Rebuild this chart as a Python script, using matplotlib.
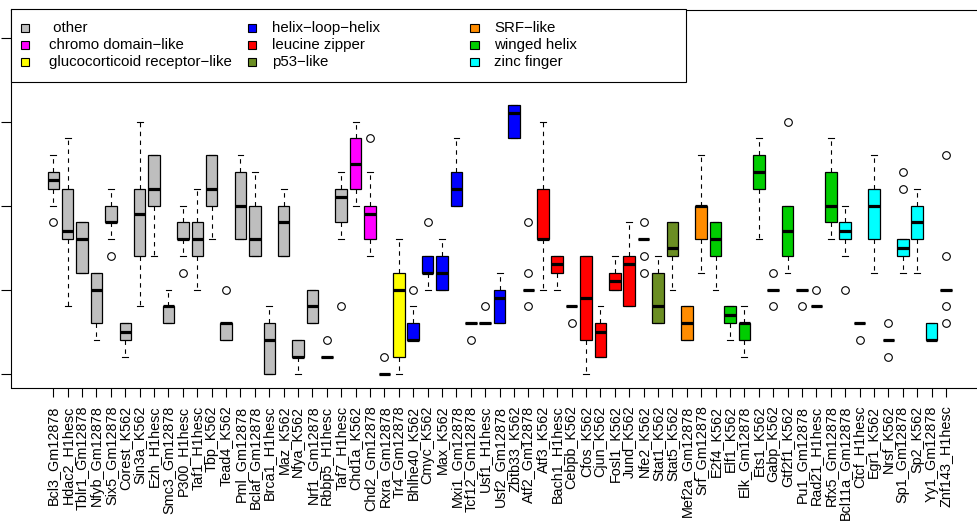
import matplotlib
matplotlib.use("Agg")
import matplotlib.pyplot as plt
from matplotlib.patches import Rectangle

plt.rcParams['font.family'] = ['Liberation Sans', 'DejaVu Sans']

labels = [
    "Bcl3_Gm12878", "Hdac2_H1hesc", "Tblr1_Gm12878", "Nfyb_Gm12878", "Six5_Gm12878",
    "Corest_K562", "Sin3a_K562", "Ezh_H1hesc", "Smc3_Gm12878", "P300_H1hesc",
    "Taf1_H1hesc", "Tbp_K562", "Tead4_K562", "Pml_Gm12878", "Bclaf_Gm12878",
    "Brca1_H1hesc", "Maz_K562", "Nfya_K562", "Nrf1_Gm12878", "Rbbp5_H1hesc",
    "Taf7_H1hesc", "Chd1a_K562", "Chd2_Gm12878", "Rxra_Gm12878", "Tr4_Gm12878",
    "Bhlhe40_K562", "Cmyc_K562", "Max_K562", "Mxi1_Gm12878", "Tcf12_Gm12878",
    "Usf1_H1hesc", "Usf2_Gm12878", "Zbtb33_K562", "Atf2_Gm12878", "Atf3_K562",
    "Bach1_H1hesc", "Cebpb_K562", "Cfos_K562", "Cjun_K562", "Fosl1_K562",
    "Jund_K562", "Nfe2_K562", "Stat1_K562", "Stat5_K562", "Mef2a_Gm12878",
    "Srf_Gm12878", "E2f4_K562", "Elf1_K562", "Elk_Gm12878", "Ets1_K562",
    "Gabp_K562", "Gtf2f1_K562", "Pu1_Gm12878", "Rad21_H1hesc", "Rfx5_Gm12878",
    "Bcl11a_Gm12878", "Ctcf_H1hesc", "Egr1_K562", "Nrsf_K562", "Sp1_Gm12878",
    "Sp2_K562", "Yy1_Gm12878", "Znf143_H1hesc",
]

family_names = [
    "other", "chromo domain\u2212like", "glucocorticoid receptor\u2212like",
    "helix\u2212loop\u2212helix", "leucine zipper", "p53\u2212like",
    "SRF\u2212like", "winged helix", "zinc finger",
]
family_colors = [
    "#BEBEBE", "#FF00FF", "#FFFF00", "#0000FF", "#FF0000",
    "#6B8E23", "#FF8C00", "#00CD00", "#00FFFF",
]
# number of consecutive factors in each family, in label order
family_sizes = [21, 2, 2, 8, 9, 2, 2, 9, 8]

whislo = [10, 4, 6, 2, 8, 1, 4, 7, 3, 7,
          5, 8, 2, 8, 7, 0, 7, 0, 3, 1,
          8, 10, 7, 0, 0, 2, 5, 5, 10, 3,
          3, 3, 14, 5, 5, 5, 4, 0, 1, 5,
          4, 8, 3, 5, 2, 6, 5, 2, 1, 8,
          5, 6, 5, 4, 8, 7, 3, 6, 2, 6,
          6, 2, 5]
q1 = [11, 8, 6, 3, 9, 2, 7, 10, 3, 8,
      7, 10, 2, 8, 7, 0, 7, 1, 3, 1,
      9, 11, 8, 0, 1, 2, 6, 5, 10, 3,
      3, 3, 14, 5, 8, 6, 4, 2, 1, 5,
      4, 8, 3, 7, 2, 8, 7, 3, 2, 11,
      5, 7, 5, 4, 9, 8, 3, 8, 2, 7,
      8, 2, 5]
med = [11.5, 8.5, 8, 5, 9, 2.5, 9.5, 11, 4, 8,
       8, 11, 3, 10, 8, 2, 9, 1, 4, 1,
       10.5, 12.5, 9.5, 0, 5, 2, 6, 6, 11, 3,
       3, 4.5, 15.5, 5, 8, 6.5, 4, 4.5, 2.5, 5.5,
       6.5, 8, 4, 7.5, 3, 10, 8, 3.5, 3, 12,
       5, 8.5, 5, 4, 10, 8.5, 3, 10, 2, 7.5,
       9, 2, 5]
q3 = [12, 11, 9, 6, 10, 3, 11, 13, 4, 9,
      9, 13, 3, 12, 10, 3, 10, 2, 5, 1,
      11, 14, 10, 0, 6, 3, 7, 7, 12, 3,
      3, 5, 16, 5, 11, 7, 4, 7, 3, 6,
      7, 8, 6, 9, 4, 10, 9, 4, 3, 13,
      5, 10, 5, 4, 12, 9, 3, 11, 2, 8,
      10, 3, 5]
whishi = [13, 14, 9, 6, 11, 3, 15, 13, 5, 10,
          11, 13, 3, 13, 12, 4, 11, 2, 5, 1,
          12, 15, 12, 0, 8, 4, 7, 8, 14, 3,
          3, 6, 16, 5, 15, 7, 4, 7, 4, 7,
          9, 8, 7, 9, 4, 13, 9, 4, 4, 14,
          5, 10, 5, 4, 14, 10, 3, 13, 2, 8,
          11, 3, 5]
fliers = [[9], [], [], [], [7], [], [], [], [], [6],
          [], [], [5], [], [], [], [], [], [], [2],
          [4], [], [14], [1], [], [5], [9], [], [], [2],
          [4], [], [], [9, 6, 4], [], [], [3], [], [], [],
          [], [9, 7, 6], [], [], [], [], [], [], [], [],
          [6, 4], [15], [4], [5], [], [5], [2], [], [3, 1], [12, 11],
          [], [], [13, 7, 4, 3]]

y_ticks = [0, 5, 10, 15, 20]

W, H = 977, 523
fig = plt.figure(figsize=(W / 100, H / 100), dpi=100)

# axes frame in pixel coordinates (right edge runs past the canvas)
ax_left, ax_right, ax_top, ax_bottom = 11, 990, 9.5, 387.5
ax = fig.add_axes([ax_left / W, (H - ax_bottom) / H,
                   (ax_right - ax_left) / W, (ax_bottom - ax_top) / H])

positions = list(range(1, len(labels) + 1))
stats = [dict(label=l, whislo=a, q1=b, med=c, q3=d, whishi=e, fliers=f)
         for l, a, b, c, d, e, f in zip(labels, whislo, q1, med, q3, whishi, fliers)]

bp = ax.bxp(stats, positions=positions, widths=0.8, patch_artist=True,
            showfliers=True, capwidths=0.4, manage_ticks=False,
            boxprops=dict(linewidth=0.9, edgecolor="black"),
            medianprops=dict(color="black", linewidth=2.3, solid_capstyle="butt"),
            whiskerprops=dict(color="black", linewidth=0.8, linestyle=(0, (4, 4))),
            capprops=dict(color="black", linewidth=0.8),
            flierprops=dict(marker="o", markerfacecolor="none",
                            markeredgecolor="black", markersize=5.5,
                            markeredgewidth=0.8))

box_colors = []
for color, n in zip(family_colors, family_sizes):
    box_colors += [color] * n
for patch, color in zip(bp["boxes"], box_colors):
    patch.set_facecolor(color)

ax.set_xlim(-1.938, 66.06)
ax.set_ylim(-0.83, 21.68)

ax.set_xticks(positions)
ax.set_xticklabels(labels, rotation=90, fontsize=10.4)
ax.tick_params(axis="x", length=6.5, width=0.8, pad=6.5, direction="out")
ax.set_yticks(y_ticks)
ax.set_yticklabels([])
ax.tick_params(axis="y", length=7.5, width=0.8, direction="out")
for sp in ax.spines.values():
    sp.set_linewidth(0.8)
    sp.set_color("black")


def fx(px):
    return px / W


def fy(py):
    return 1 - py / H


# legend box in the upper left corner of the plot
leg = Rectangle((fx(11), fy(82)), fx(686) - fx(11), fy(9.5) - fy(82),
                transform=fig.transFigure, facecolor="white",
                edgecolor="black", linewidth=0.8, zorder=5)
fig.add_artist(leg)

col_marker_x = [25, 252, 474.5]
col_text_x = [49, 272, 494]
row_y = [28, 45, 62]
sq = 8.5
for i, (name, color) in enumerate(zip(family_names, family_colors)):
    c, r = divmod(i, 3)
    mx, my = col_marker_x[c], row_y[r]
    fig.add_artist(Rectangle((fx(mx - sq / 2), fy(my + sq / 2)), sq / W, sq / H,
                             transform=fig.transFigure, facecolor=color,
                             edgecolor="black", linewidth=0.8, zorder=6))
    txt = " " + name if name == "other" else name
    fig.text(fx(col_text_x[c]), fy(my), txt, fontsize=10.8,
             va="center", ha="left", zorder=7)

fig.savefig("out.png", dpi=100)
